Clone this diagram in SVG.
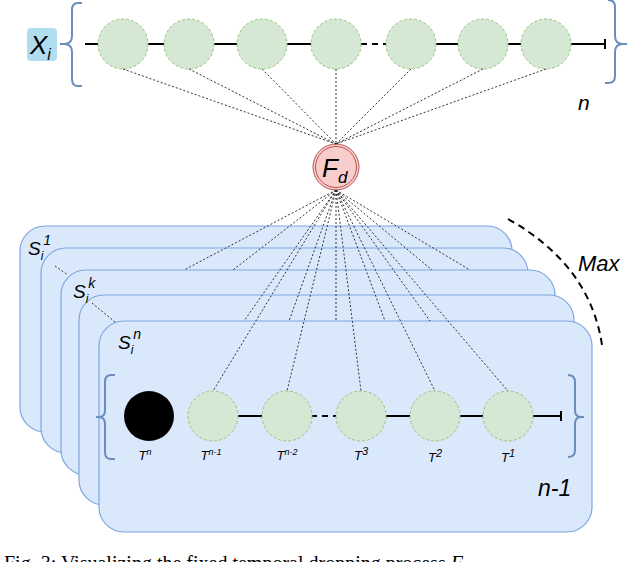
<svg xmlns="http://www.w3.org/2000/svg" width="640" height="562" viewBox="0 0 640 562">
<style>
.card{fill:#dae8fc;stroke:#7ea6e0;stroke-width:1.2}
.g{fill:#d5e8d4;stroke:#97c47e;stroke-width:1;stroke-dasharray:3 2}
.br{fill:none;stroke:#6c8ebf;stroke-width:2}
.ln{stroke:#000;stroke-width:2}
.dot{stroke:#333;stroke-width:1;stroke-dasharray:2 2;fill:none}
.it{font-family:"Liberation Sans",Arial,sans-serif;font-style:italic;fill:#000}
</style>
<rect width="640" height="562" fill="#fff"/>
<g id="top">
<rect x="27" y="28" width="30" height="33" rx="4" fill="#b1ddf0"/>
<text class="it" x="30" y="54" font-size="26">X<tspan font-size="16" dy="6">i</tspan></text>
<path class="br" d="M82,3 H78 Q72,3 72,10 V36 Q72,44 64,44 H60 M64,44 Q72,44 72,52 V79 Q72,86 78,86 H82"/>
<path class="br" d="M608,0 Q615,0 615,7 V36 Q615,44 623,44 H627 M623,44 Q615,44 615,52 V76 Q615,83 608,83 H605"/>
<line class="ln" x1="85" y1="44" x2="361" y2="44"/>
<line class="ln" x1="361" y1="44" x2="386" y2="44" stroke-dasharray="6 5"/>
<line class="ln" x1="386" y1="44" x2="605" y2="44"/>
<line class="ln" x1="605" y1="39" x2="605" y2="49"/>
<circle class="g" cx="123" cy="44" r="25"/><circle class="g" cx="189" cy="44" r="25"/><circle class="g" cx="262" cy="44" r="25"/><circle class="g" cx="336" cy="44" r="25"/><circle class="g" cx="411" cy="44" r="25"/><circle class="g" cx="483" cy="44" r="25"/><circle class="g" cx="546" cy="44" r="25"/>
<text class="it" x="578" y="110" font-size="21">n</text>
</g>
<g id="cards">
<rect class="card" x="20" y="226" width="492" height="206" rx="25"/>
<rect class="card" x="41" y="248" width="487" height="205" rx="25"/>
<rect class="card" x="61" y="270" width="494" height="205" rx="25"/>
<rect class="card" x="79" y="295" width="495" height="210" rx="25"/>
<rect class="card" x="99" y="321" width="493" height="211" rx="25"/>
<text class="it" x="28" y="255" font-size="19">S<tspan font-size="12" dy="5">i</tspan><tspan font-size="14" dy="-15">1</tspan></text>
<text class="it" x="73" y="298" font-size="19">S<tspan font-size="12" dy="5">i</tspan><tspan font-size="14" dy="-15">k</tspan></text>
<text class="it" x="118" y="349" font-size="19">S<tspan font-size="12" dy="5">i</tspan><tspan font-size="14" dy="-15">n</tspan></text>
<line class="dot" x1="55" y1="266" x2="68" y2="275"/>
<line class="dot" x1="92" y1="303" x2="115" y2="322"/>
<path d="M508,219 Q590,265 602,345" fill="none" stroke="#000" stroke-width="2" stroke-dasharray="7 5"/>
<text class="it" x="578" y="271" font-size="22">Max</text>
</g>
<g id="bottom">
<path class="br" d="M115,375 H111 Q105,375 105,382 V410 Q105,417 99,417 H96 M99,417 Q105,417 105,424 V452 Q105,459 111,459 H115"/>
<path class="br" d="M568,375 Q575,375 575,382 V410 Q575,417 581,417 H584 M581,417 Q575,417 575,424 V450 Q575,457 568,457"/>
<line class="ln" x1="238" y1="416" x2="311" y2="416"/>
<line class="ln" x1="311" y1="416" x2="337" y2="416" stroke-dasharray="6 5"/>
<line class="ln" x1="337" y1="416" x2="561" y2="416"/>
<line class="ln" x1="561" y1="411" x2="561" y2="421"/>
<circle cx="149" cy="416" r="25" fill="#000"/>
<circle class="g" cx="213" cy="416" r="25"/><circle class="g" cx="287" cy="416" r="25"/><circle class="g" cx="361" cy="416" r="25"/><circle class="g" cx="435" cy="416" r="25"/><circle class="g" cx="508" cy="416" r="25"/>
<g class="it" font-size="13" text-anchor="middle">
<text x="145" y="460">T<tspan font-size="9" dy="-5">n</tspan></text>
<text x="211" y="460">T<tspan font-size="9" dy="-5">n-1</tspan></text>
<text x="287" y="460">T<tspan font-size="9" dy="-5">n-2</tspan></text>
<text x="361" y="460">T<tspan font-size="11" dy="-5">3</tspan></text>
<text x="435" y="462">T<tspan font-size="11" dy="-5">2</tspan></text>
<text x="508" y="462">T<tspan font-size="11" dy="-5">1</tspan></text>
</g>
<text class="it" x="538" y="496" font-size="23">n-1</text>
</g>
<g id="Fd">
<circle cx="336" cy="167" r="23" fill="#f8cecc" stroke="#b85450" stroke-width="1"/>
<circle cx="336" cy="167" r="20.5" fill="none" stroke="#b85450" stroke-width="1"/>
<text class="it" x="322" y="177" font-size="26" font-style="normal">F<tspan font-size="17" dy="6">d</tspan></text>
</g>
<g id="connectors">
<line class="dot" x1="123" y1="69" x2="336" y2="144"/><line class="dot" x1="189" y1="69" x2="336" y2="144"/><line class="dot" x1="262" y1="69" x2="336" y2="144"/><line class="dot" x1="336" y1="69" x2="336" y2="144"/><line class="dot" x1="411" y1="69" x2="336" y2="144"/><line class="dot" x1="483" y1="69" x2="336" y2="144"/><line class="dot" x1="546" y1="69" x2="336" y2="144"/>
<line class="dot" x1="336" y1="190" x2="184" y2="270"/><line class="dot" x1="336" y1="190" x2="233" y2="270"/><line class="dot" x1="336" y1="190" x2="432" y2="270"/><line class="dot" x1="336" y1="190" x2="470" y2="270"/>
<line class="dot" x1="336" y1="190" x2="244" y2="321"/><line class="dot" x1="336" y1="190" x2="289" y2="321"/><line class="dot" x1="336" y1="190" x2="336" y2="321"/><line class="dot" x1="336" y1="190" x2="385" y2="321"/><line class="dot" x1="336" y1="190" x2="430" y2="321"/>
<line class="dot" x1="336" y1="190" x2="213" y2="391"/><line class="dot" x1="336" y1="190" x2="287" y2="391"/><line class="dot" x1="336" y1="190" x2="361" y2="391"/><line class="dot" x1="336" y1="190" x2="435" y2="391"/><line class="dot" x1="336" y1="190" x2="508" y2="391"/>
</g>
<text x="4" y="570" font-family="Liberation Serif,serif" font-size="20">Fig. 3: Visualizing the fixed temporal dropping process <tspan font-style="italic">F</tspan></text>
</svg>
